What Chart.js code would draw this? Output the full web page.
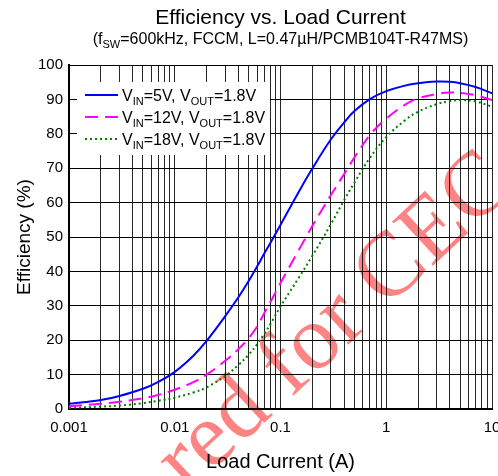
<!DOCTYPE html>
<html>
<head>
<meta charset="utf-8">
<script src="https://cdn.jsdelivr.net/npm/chart.js@4.4.1/dist/chart.umd.min.js"></script>
<style>
  html, body { margin: 0; padding: 0; background: #fff; overflow: hidden; }
  #wrap { width: 498px; height: 476px; }
</style>
</head>
<body>
<div id="wrap"><canvas id="effChart" width="498" height="476"></canvas></div>
<script>
// load current (A) and efficiency (%) for each input voltage
var loadCurrent = [0.001, 0.002, 0.003, 0.005, 0.007, 0.01, 0.015, 0.02, 0.03, 0.04, 0.05, 0.06, 0.07, 0.08,
  0.1, 0.15, 0.2, 0.3, 0.4, 0.5, 0.7, 1, 1.5, 2, 3, 4, 5, 7, 10];
var effVin5 = [1.5, 2.6, 3.8, 5.9, 7.9, 10.8, 15.5, 19.8, 27, 32.5, 37.2, 41.4, 45.1, 48.2,
  53.5, 63.3, 69.9, 78.4, 83.3, 86.6, 90.1, 92.4, 94, 94.7, 95.2, 95.1, 94.7, 93.6, 91.8];
var effVin12 = [0.8, 1.5, 2.1, 3.1, 4.1, 5.6, 7.8, 10, 14, 17.4, 20.6, 23.9, 27.8, 31,
  36.6, 46.4, 53.2, 62.2, 68.3, 73.1, 79.6, 84.4, 88.4, 90.3, 91.6, 92, 91.9, 91.2, 89.8];
var effVin18 = [0.3, 0.7, 1, 1.7, 2.4, 3.3, 4.8, 6.3, 9.6, 12.8, 15.8, 18.8, 21.8, 24.6,
  29.8, 38.3, 44.5, 53.8, 60.7, 65.8, 73, 79, 83.9, 86.4, 88.6, 89.5, 89.8, 89.4, 87.9];

var xTickLabels = ['0.001', '0.01', '0.1', '1', '10'];

// text runs: [text, isSubscript]
var titleText = 'Efficiency vs. Load Current';
var subtitleRuns = [['(f', 0], ['SW', 1], ['=600kHz, FCCM, L=0.47\u00b5H/PCMB104T-R47MS)', 0]];
var legendRuns = [
  [['V', 0], ['IN', 1], ['=5V, V', 0], ['OUT', 1], ['=1.8V', 0]],
  [['V', 0], ['IN', 1], ['=12V, V', 0], ['OUT', 1], ['=1.8V', 0]],
  [['V', 0], ['IN', 1], ['=18V, V', 0], ['OUT', 1], ['=1.8V', 0]]
];
var watermarkText = 'red for CEC';

var FONT = "'Liberation Sans', Arial, sans-serif";

// every 1..9 step of each decade, for the log grid
var gridValues = [];
[0.001, 0.01, 0.1, 1].forEach(function (d) {
  for (var k = 1; k <= 9; k++) gridValues.push(Number((k * d).toPrecision(6)));
});
gridValues.push(10);

function toPoints(ys) {
  return loadCurrent.map(function (x, i) { return { x: x, y: ys[i] }; });
}

function richWidth(ctx, runs, size, subSize) {
  var w = 0;
  runs.forEach(function (r) {
    ctx.font = (r[1] ? subSize : size) + 'px ' + FONT;
    w += ctx.measureText(r[0]).width;
  });
  return w;
}

function drawRich(ctx, runs, x, y, size, subSize, center) {
  var cx = center ? x - richWidth(ctx, runs, size, subSize) / 2 : x;
  ctx.textAlign = 'left';
  ctx.textBaseline = 'alphabetic';
  ctx.fillStyle = '#000';
  runs.forEach(function (r) {
    ctx.font = (r[1] ? subSize : size) + 'px ' + FONT;
    ctx.fillText(r[0], cx, y + (r[1] ? subSize * 0.35 : 0));
    cx += ctx.measureText(r[0]).width;
  });
}

var decorPlugin = {
  id: 'decor',
  beforeDraw: function (chart) {
    // diagonal stamp behind the grid
    var ctx = chart.ctx;
    ctx.save();
    ctx.translate(188, 494);
    ctx.rotate(-43 * Math.PI / 180);
    ctx.font = "92px 'Liberation Serif', 'Times New Roman', serif";
    ctx.fillStyle = 'rgba(255, 30, 30, 0.55)';
    ctx.textAlign = 'left';
    ctx.textBaseline = 'alphabetic';
    ctx.fillText(watermarkText, 0, 0);
    ctx.restore();
  },
  afterDatasetsDraw: function (chart) {
    var ctx = chart.ctx;
    var a = chart.chartArea;
    var mid = (a.left + a.right) / 2;
    ctx.save();
    // titles
    ctx.fillStyle = '#000';
    ctx.font = '21px ' + FONT;
    ctx.textAlign = 'center';
    ctx.textBaseline = 'alphabetic';
    ctx.fillText(titleText, mid, 24);
    drawRich(ctx, subtitleRuns, mid, 44, 16, 11, true);

    // legend box
    var bx = a.left + 8, by = a.top + 17;
    ctx.fillStyle = '#fff';
    ctx.fillRect(bx, by, 193, 73);
    chart.data.datasets.forEach(function (ds, i) {
      var ly = by + 13 + i * 22;
      ctx.beginPath();
      ctx.strokeStyle = ds.borderColor;
      ctx.lineWidth = ds.borderWidth;
      ctx.setLineDash(ds.borderDash || []);
      ctx.moveTo(bx + 8, ly);
      ctx.lineTo(bx + 41, ly);
      ctx.stroke();
      ctx.setLineDash([]);
      drawRich(ctx, legendRuns[i], bx + 45, ly + 6, 16, 11, false);
    });
    ctx.restore();
  }
};

var ctx = document.getElementById('effChart').getContext('2d');
var effChart = new Chart(ctx, {
  type: 'line',
  data: {
    datasets: [
      {
        data: toPoints(effVin5),
        borderColor: '#0000ff',
        borderWidth: 2,
        pointRadius: 0,
        tension: 0.4
      },
      {
        data: toPoints(effVin12),
        borderColor: '#ff00ff',
        borderWidth: 2,
        borderDash: [13, 7],
        pointRadius: 0,
        tension: 0.4
      },
      {
        data: toPoints(effVin18),
        borderColor: '#008000',
        borderWidth: 2,
        borderDash: [2, 3],
        pointRadius: 0,
        tension: 0.4
      }
    ]
  },
  options: {
    responsive: false,
    animation: false,
    devicePixelRatio: 1,
    layout: { padding: { top: 65, left: 0, right: 0, bottom: 0 } },
    plugins: {
      legend: { display: false },
      title: { display: false },
      tooltip: { enabled: false }
    },
    scales: {
      x: {
        type: 'logarithmic',
        min: 0.001,
        max: 10,
        afterBuildTicks: function (scale) {
          scale.ticks = gridValues.map(function (v) { return { value: v }; });
        },
        afterFit: function (scale) {
          scale.height = 67;
          scale.paddingRight = 6;
        },
        ticks: {
          autoSkip: false,
          maxRotation: 0,
          padding: 10,
          color: '#000',
          font: { family: FONT, size: 15 },
          callback: function (value) {
            var e = Math.log10(value);
            if (Math.abs(e - Math.round(e)) < 1e-6) return xTickLabels[Math.round(e) + 3];
            return '';
          }
        },
        grid: { color: 'rgba(0,0,0,0.85)', lineWidth: 1, drawTicks: false },
        border: { color: '#000', width: 2 },
        title: {
          display: true,
          text: 'Load Current (A)',
          color: '#000',
          font: { family: FONT, size: 20 },
          padding: { top: 0, bottom: 2 }
        }
      },
      y: {
        min: 0,
        max: 100,
        afterFit: function (scale) {
          scale.width = 69;
        },
        ticks: {
          stepSize: 10,
          padding: 6,
          color: '#000',
          font: { family: FONT, size: 15 }
        },
        grid: { color: '#000', lineWidth: 1, drawTicks: false },
        border: { color: '#000', width: 2 },
        title: {
          display: true,
          text: 'Efficiency (%)',
          color: '#000',
          font: { family: FONT, size: 19 },
          padding: { top: 13, bottom: 0 }
        }
      }
    }
  },
  plugins: [decorPlugin]
});
</script>
</body>
</html>
